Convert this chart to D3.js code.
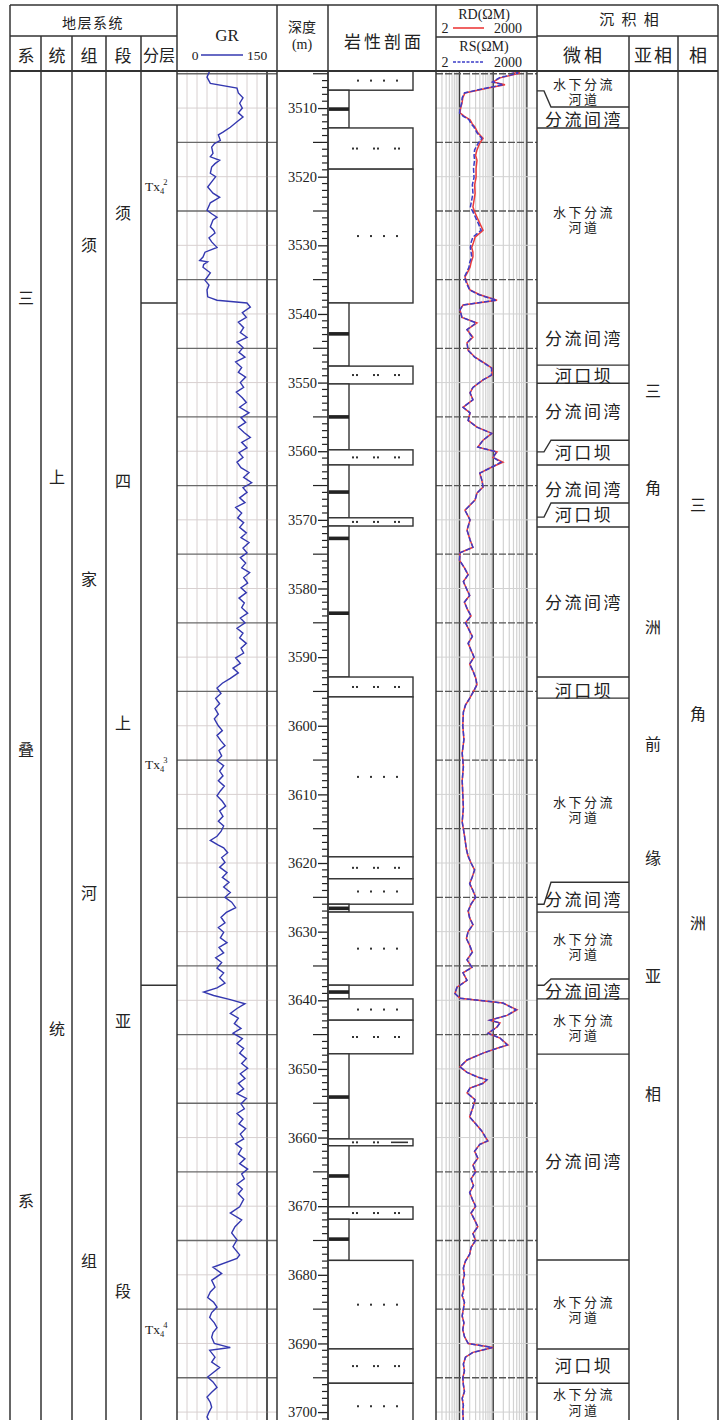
<!DOCTYPE html>
<html><head><meta charset="utf-8">
<script src="https://cdn.jsdelivr.net/npm/d3@7"></script>
<style>body{margin:0;background:#fff}svg{display:block}</style>
</head><body><svg id="c" width="725" height="1420"></svg>
<script>
// ---------------- DATA ----------------
const depthDomain = [3504.6, 3701.3];
const depthLabels = [3510,3520,3530,3540,3550,3560,3570,3580,3590,3600,3610,3620,3630,3640,3650,3660,3670,3680,3690,3700];
const grRange = [0, 150];
const resRange = [2, 2000];

// GR curve: [depth, API]
const grCurve = [
[3504.6,49],[3505.5,45],[3506.4,50],[3507.1,90],[3507.8,92],[3508.5,99],[3509.3,94],[3510.0,98],[3510.7,92],[3511.3,99],[3512.0,90],[3512.8,80],[3513.5,69],[3513.9,62],[3514.7,65],[3515.2,56],[3515.7,52],[3516.6,54],[3517.1,50],[3517.6,64],[3518.1,57],[3518.6,52],[3519.5,50],[3520.0,58],[3520.5,54],[3521.5,46],[3522.4,54],[3523.0,64],[3523.8,50],[3524.9,45],[3525.4,52],[3525.9,60],[3526.3,54],[3527.3,50],[3527.8,55],[3528.2,57],[3528.9,48],[3529.5,52],[3530.3,60],[3531.0,42],[3531.7,39],[3532.2,34],[3532.4,46],[3532.8,40],[3533.2,39],[3534.0,50],[3535.1,42],[3535.8,48],[3536.5,45],[3537.5,46],[3538.0,60],[3538.4,105],[3539.0,110],
[3539.8,98],[3540.5,104],[3541.2,92],[3542.0,100],[3542.7,95],[3543.4,105],[3544.1,90],[3544.9,99],[3545.6,93],[3546.3,102],[3547.0,88],[3547.8,97],[3548.5,92],[3549.2,103],[3550.0,95],[3550.7,100],[3551.4,89],[3552.2,98],[3552.9,104],[3553.6,94],[3554.4,108],[3555.1,96],[3555.8,103],[3556.5,92],[3557.3,101],[3558.0,110],[3558.7,97],[3559.5,105],[3560.2,93],[3560.9,99],[3561.6,90],[3562.4,96],[3563.1,108],[3563.8,100],[3564.6,112],[3565.3,99],[3566.0,105],[3566.8,94],[3567.5,102],[3568.2,88],[3569.0,97],[3569.7,91],[3570.4,100],[3571.1,94],[3571.9,104],[3572.6,96],[3573.3,108],[3574.1,99],[3574.8,105],[3575.5,95],[3576.3,103],[3577.0,97],[3577.7,109],[3578.4,100],[3579.2,106],[3579.9,96],[3580.6,104],[3581.4,93],[3582.1,101],[3582.8,97],[3583.6,106],[3584.3,95],[3585.0,102],[3585.8,90],[3586.5,99],[3587.2,94],[3588.0,104],[3588.7,96],[3589.4,100],[3590.1,88],[3590.9,95],[3591.6,84],[3592.3,92],[3593.1,80],[3593.8,68],[3594.5,60],[3595.3,66],[3596.0,58],[3596.8,64],[3597.5,57],[3598.3,62],[3599.0,56],
[3600.0,62],[3600.7,68],[3601.4,60],[3602.2,66],[3602.9,72],[3603.6,63],[3604.4,67],[3605.1,60],[3605.8,70],[3606.6,64],[3607.3,69],[3608.0,62],[3608.8,71],[3609.5,65],[3610.2,60],[3611.0,68],[3611.7,73],[3612.4,64],[3613.2,69],[3613.9,62],[3614.6,70],[3615.4,66],[3616.1,60],[3616.7,50],[3617.4,62],[3617.8,70],[3618.5,76],[3619.2,67],[3619.9,72],[3620.6,64],[3621.4,75],[3622.1,68],[3622.8,78],[3623.5,70],[3624.3,80],[3625.0,72],[3625.7,82],[3626.5,88],[3627.2,74],[3627.9,66],[3628.7,72],[3629.4,62],[3630.1,70],[3630.9,65],[3631.6,75],[3632.3,63],[3633.1,70],[3633.8,58],[3634.5,67],[3635.3,60],[3636.0,70],[3636.7,64],[3637.5,72],[3638.2,60],[3638.8,40],[3639.3,55],[3639.9,80],[3640.5,102],[3641.2,90],[3641.9,80],[3642.6,92],[3643.4,86],[3644.1,96],[3644.8,84],[3645.6,98],[3646.3,90],[3647.0,100],[3647.7,94],[3648.5,104],[3649.2,97],[3649.9,106],[3650.7,95],
[3651.4,102],[3652.1,92],[3652.9,100],[3653.6,90],[3654.3,104],[3655.1,96],[3655.8,101],[3656.5,90],[3657.3,99],[3658.0,93],[3658.7,103],[3659.5,95],[3660.2,100],[3660.9,88],[3661.6,97],[3662.4,92],[3663.1,102],[3663.8,94],[3664.6,106],[3665.3,97],[3666.0,101],[3666.8,90],[3667.5,98],[3668.2,92],[3669.0,100],[3670.1,94],[3671.0,80],[3672.0,97],[3673.0,87],[3673.9,82],[3674.9,90],[3675.9,84],[3677.1,94],[3677.6,90],[3678.9,54],[3679.8,67],[3680.8,52],[3681.8,57],[3682.5,50],[3683.3,46],[3684.0,55],[3684.7,60],[3685.5,52],[3686.2,49],[3687.0,56],[3687.7,60],[3688.4,54],[3689.1,52],[3690.0,56],[3690.6,80],[3691.0,49],[3692.0,57],[3692.7,52],[3693.5,64],[3694.2,55],[3694.9,46],[3695.6,54],[3696.4,60],[3697.1,52],[3697.8,45],[3698.6,50],[3699.3,52],[3700.0,48],[3700.7,45],[3701.3,48]
];

// Resistivity: [depth, RD, RS] (ohm.m)
const resCurve = [
[3504.6,316,300],[3504.9,626,560],[3505.6,159,150],[3506.2,99,95],[3506.6,224,200],[3507.1,65,60],[3507.8,14.5,14],[3508.5,12.5,12],[3509.3,11.8,11.5],[3510.0,10.8,10.5],[3510.7,10.3,10],[3511.2,14,13],[3511.7,20.5,19],[3512.3,24,22],[3512.8,28.8,27],[3513.6,35,33],[3514.4,50,46],[3515.1,40,36],[3516.1,33,28],[3516.9,30,27],[3517.6,33,28],[3518.8,31,26],[3520.1,31,27],[3521.2,28,24],[3522.4,29,25],[3523.4,27,23],[3524.4,25,21],[3525.3,29,26],[3526.8,40,36],[3527.8,50,44],[3528.8,29,25],[3529.6,26,22],[3530.3,23,21],[3531.0,25,22],[3531.7,25,23],[3532.5,22,20],[3533.2,20.5,19],[3534.0,17,16],[3534.6,14.5,14],[3535.5,16.7,16],[3536.5,20.5,20],[3537.2,40,38],[3538.0,130,125],[3538.7,12.7,12.5],[3539.4,10.3,10.3],[3540.5,11.8,11.8],[3541.3,33,31],[3542.3,16.7,16.7],[3543.4,25,24],[3544.2,16.7,16.7],[3545.3,18,18],[3546.3,29,28],[3547.2,57,55],[3547.9,92,90],[3548.9,92,88],[3549.6,50,50],[3550.7,25,25],[3551.5,20.5,20.5],[3552.5,25,25],[3553.6,12.7,12.7],[3554.4,20.5,20.5],[3555.5,18,18],[3556.5,33,33],[3557.4,92,90],[3558.4,50,50],[3559.4,35,35],[3560.1,130,125],[3560.9,99,99],[3561.6,195,170],[3562.3,92,92],[3563.2,40,40],[3564.2,46,46],[3565.2,50,50],[3566.1,33,33],[3567.1,29,29],[3568.6,14.5,14.5],[3570.0,20.5,20.5],[3571.5,16.7,16.7],[3572.9,20.5,20.5],[3574.0,25,25],[3574.8,10.3,10.3],[3575.9,10,10],
[3577,14,14],[3578,18,18],[3579,13,13],[3580,16,16],[3581,20,20],[3582,14,14],[3583,17,17],[3584,22,22],[3585,15,15],[3586,19,19],[3587,24,24],[3588,18,18],[3589,22,22],[3590,27,27],[3591,20,20],[3592,25,25],[3593,30,30],[3594,33,33],[3595,26,26],[3596,20,20],[3597,15,15],[3598,13,13],[3600,12.5,12.5],[3602,13.5,13.5],[3604,12,12],[3606,13,13],[3608,12,12],[3610,12.5,12.5],[3612,13,13],[3614,12,12],[3616,14,14],[3618,16,16],[3619,18,18],[3620,22,22],[3621,28,28],[3622,24,24],[3623,20,20],[3624,25,25],[3625,30,30],[3626,22,22],[3627,18,18],[3628,20,20],[3629,25,25],[3630,18,18],[3631,16,16],[3632,20,20],[3633,24,24],[3634.1,16.7,16.7],[3635.2,23.4,23.4],[3636.0,12.7,12.7],[3637.1,16.7,16.7],[3638.1,8.4,8.4],[3639.0,7.3,7.3],[3639.7,10.3,10.3],[3640.4,195,195],[3641.4,509,480],[3642.2,257,257],[3642.9,80,80],[3643.3,159,159],[3643.9,130,130],[3644.8,70,70],[3645.5,159,159],[3646.5,275,260],[3647.0,130,130],[3647.7,50,50],[3648.7,16.7,16.7],[3649.7,10.3,10.3],[3650.5,16.7,16.7],[3651.2,35,35],[3651.6,65,65],[3652.1,50,50],[3652.8,20.5,20.5],[3653.5,16.7,16.7],[3654.5,29,29],[3655.6,25,25],[3657,20,20],[3658,30,30],[3659,45,45],[3660,60,60],[3660.5,70,68],[3661,40,40],[3662,28,28],[3663,35,35],[3664,25,25],[3665,30,30],[3666,22,22],[3667,26,26],[3668,20,20],[3669,24,24],[3670,30,30],[3671,22,22],[3672,28,28],[3673,35,35],[3674,25,25],[3675,30,30],[3676,22,22],[3677,20,20],[3678,15,15],[3679,13,13],[3680,14,14],[3681,12.5,12.5],[3682,13.5,13.5],[3683,12,12],[3684,14,14],[3685,13,13],[3686,12,12],[3687,13.5,13.5],[3688,12.5,12.5],[3689,14,14],[3690,18,18],[3690.6,100,95],[3691.3,25,25],[3692,15,15],[3693,13,13],[3694,14,14],[3695,12.5,12.5],[3696,13,13],[3697,14,14],[3698,12,12],[3699,13,13],[3700,12.5,12.5],[3701.3,13,13]
];

// Lithology: S = sandstone, T = siltstone, M = mudstone
const lithTop    = [3504.6,3507.4,3512.9,3518.9,3538.4,3547.6,3550.2,3559.8,3562.0,3569.7,3570.9,3592.9,3595.8,3619.1,3622.3,3626.0,3627.15,3637.8,3639.8,3642.9,3647.8,3660.2,3661.2,3670.1,3671.9,3677.9,3690.8,3695.8];
const lithBottom = [3507.4,3512.9,3518.9,3538.4,3547.6,3550.2,3559.8,3562.0,3569.7,3570.9,3592.9,3595.8,3619.1,3622.3,3626.0,3627.15,3637.8,3639.8,3642.9,3647.8,3660.2,3661.2,3670.1,3671.9,3677.9,3690.8,3695.8,3702.5];
const lithType   = ["S","M","T","S","M","T","M","T","M","T","M","T","S","T","S","M","S","M","S","T","M","T","M","T","M","S","T","S"];
const mudBars = [3510.15,3542.9,3555.0,3565.95,3572.7,3583.6,3626.6,3638.8,3654.1,3665.6,3674.8];

// Micro-facies
const faciesName  = ["水下分流河道","分流间湾","水下分流河道","分流间湾","河口坝","分流间湾","河口坝","分流间湾","河口坝","分流间湾","河口坝","水下分流河道","分流间湾","水下分流河道","分流间湾","水下分流河道","分流间湾","水下分流河道","河口坝","水下分流河道"];
const faciesTop   = [3504.6,3509.85,3512.9,3538.4,3547.45,3550.1,3558.4,3562.0,3567.55,3571.05,3592.9,3595.97,3622.8,3627.15,3636.9,3639.8,3647.85,3677.85,3690.8,3695.8];
const faciesTopLeft = [null,3507.5,null,null,null,null,3560.1,null,3569.6,null,null,null,3626.0,null,3637.8,null,null,null,null,null];
const faciesLabelDepth = [3507.67,3511.46,3526.32,3543.37,3548.76,3554.0,3559.98,3565.37,3569.01,3581.84,3594.66,3612.29,3625.11,3632.25,3638.52,3644.05,3663.29,3685.14,3693.01,3698.6];

// Stratigraphy column labels [text, depth]
const sysLabels = [["三",3537.54],["叠",3603.25],["系",3669.11]];
const seriesLabels = [["上",3563.62],["统",3644.05]];
const formLabels = [["须",3529.82],["家",3578.48],["河",3624.23],["组",3677.86]];
const memberLabels = [["须",3525.15],["四",3564.2],["上",3599.47],["亚",3642.89],["段",3682.23]];
const layerLabels = [["2",3521.51],["3",3605.73],["4",3688.05]];
const layerBounds = [3538.4, 3637.8];
const subFaciesLabels = [["三",3551.09],["角",3565.22],["洲",3585.48],["前",3602.53],["缘",3619.14],["亚",3636.33],["相",3653.52]];
const faciesLabels = [["三",3567.70],["角",3598.15],["洲",3628.61]];

// ---------------- DRAW ----------------
const svg = d3.select("#c");
const TOP = 5, HMID = 36, HB = 71, BOT = 1420;
const XL = 10, XR = 718;
const colX = {sys:41, ser:72, form:106, mem:141, lay:177, gr:277, dep:328, lith:436, res:537, mf:629, sf:678};
const CJK = "'Noto Sans CJK SC','Noto Sans',sans-serif";
const CJK_TIGHT = "'Liberation Serif','Noto Sans CJK SC',sans-serif";
const SERIF = "'Liberation Serif','DejaVu Serif',serif";
const LINE = "#333";

const y = d3.scaleLinear().domain(depthDomain).range([HB, 1421]);
const xGR = d3.scaleLinear().domain(grRange).range([177, 277]);
const xRes = d3.scaleLog().domain(resRange).range([436, 537]);

svg.append("defs").append("clipPath").attr("id","body")
  .append("rect").attr("x",0).attr("y",HB).attr("width",725).attr("height",BOT-HB);
const body = svg.append("g").attr("clip-path","url(#body)");

// GR grid
const gGrid = body.append("g");
d3.range(15,150,15).forEach(v=>{
  gGrid.append("line").attr("x1",xGR(v)).attr("x2",xGR(v)).attr("y1",HB).attr("y2",BOT)
    .attr("stroke", v===135 ? "#444" : "#d8d0d0").attr("stroke-width", v===135 ? 1.4 : 1);
});
d3.range(3505, 3705, 5).forEach(d=>{
  const dark = d % 10 === 5;
  gGrid.append("line").attr("x1",177).attr("x2",277).attr("y1",y(d)).attr("y2",y(d))
    .attr("stroke", dark ? "#6a6a6a" : "#d8d0d0").attr("stroke-width", dark?1.3:1);
});
// Resistivity grid
[3,4,5,6,7,8,9,20,30,40,50,60,70,80,90,200,300,400,500,600,700,800,900].forEach(v=>{
  gGrid.append("line").attr("x1",xRes(v)).attr("x2",xRes(v)).attr("y1",HB).attr("y2",BOT)
    .attr("stroke","#d2d2d2").attr("stroke-width",1.2);
});
[10,100,1000].forEach(v=>{
  gGrid.append("line").attr("x1",xRes(v)).attr("x2",xRes(v)).attr("y1",HB).attr("y2",BOT)
    .attr("stroke","#3a3a3a").attr("stroke-width",1.4);
});
d3.range(3505, 3705, 5).forEach(d=>{
  const dark = d % 10 === 5;
  gGrid.append("line").attr("x1",436).attr("x2",537).attr("y1",y(d)).attr("y2",y(d))
    .attr("stroke", dark ? "#555" : "#d2d2d2").attr("stroke-width", dark?1.3:1)
    .attr("stroke-dasharray", dark ? "7,2" : null);
});

// Depth axis
const axis = d3.axisLeft(y).tickValues(depthLabels).tickSize(10).tickPadding(1).tickFormat(d3.format("d"));
const gAx = body.append("g").attr("transform","translate(328,0)").call(axis);
gAx.select(".domain").remove();
gAx.selectAll("line").attr("stroke","#222").attr("stroke-width",1.3);
gAx.selectAll("text").attr("font-family",SERIF).attr("font-size",14.5).attr("fill","#222");
d3.range(3505, 3702, 1).filter(d=>d%10!==0).forEach(d=>{
  const len = d%5===0 ? 15 : 6;
  body.append("line").attr("x1",328-len).attr("x2",328).attr("y1",y(d)).attr("y2",y(d))
    .attr("stroke","#222").attr("stroke-width",1.2);
});

// Lithology
const gL = body.append("g");
lithTop.forEach((t,i)=>{
  const b = lithBottom[i], tp = lithType[i];
  const x2 = tp==="M" ? 349 : 413;
  gL.append("rect").attr("x",328).attr("y",y(t)).attr("width",x2-328).attr("height",y(b)-y(t))
    .attr("fill","#fff").attr("stroke",LINE).attr("stroke-width",1.4);
  const cy = (y(t)+y(b))/2;
  if (tp==="S") {
    [358,371,384,397].forEach(cx=> gL.append("rect").attr("x",cx-1).attr("y",cy-1).attr("width",2).attr("height",2).attr("fill","#333"));
  } else if (tp==="T") {
    const thinDash = (b - t) < 1.2;
    [355,376,397].forEach((cx,k)=>{
      if (thinDash && k===2) {
        gL.append("line").attr("x1",391).attr("x2",408).attr("y1",cy).attr("y2",cy).attr("stroke","#333").attr("stroke-width",1.6);
      } else {
        gL.append("rect").attr("x",cx-3).attr("y",cy-1).attr("width",2).attr("height",2).attr("fill","#333");
        gL.append("rect").attr("x",cx+1).attr("y",cy-1).attr("width",2).attr("height",2).attr("fill","#333");
      }
    });
  }
});
mudBars.forEach(d=>{
  gL.append("rect").attr("x",329).attr("y",y(d)-1.8).attr("width",20).attr("height",3.6).attr("fill","#222");
});

// Curves
const grLine = d3.line().x(d=>xGR(d[1])).y(d=>y(d[0]));
body.append("path").datum(grCurve).attr("d",grLine).attr("fill","none").attr("stroke","#3438b0").attr("stroke-width",1.4);
const rdLine = d3.line().x(d=>xRes(d[1])).y(d=>y(d[0]));
const rsLine = d3.line().x(d=>xRes(d[2])).y(d=>y(d[0]));
body.append("path").datum(resCurve).attr("d",rdLine).attr("fill","none").attr("stroke","#ec3b3b").attr("stroke-width",1.5);
body.append("path").datum(resCurve).attr("d",rsLine).attr("fill","none").attr("stroke","#3b3cc8").attr("stroke-width",1.5).attr("stroke-dasharray","5,2");

// Facies boundaries and labels
const gF = body.append("g");
faciesTop.forEach((t,i)=>{
  if (i===0) return;
  const tl = faciesTopLeft[i];
  if (tl===null) {
    gF.append("line").attr("x1",537).attr("x2",629).attr("y1",y(t)).attr("y2",y(t)).attr("stroke",LINE).attr("stroke-width",1.4);
  } else {
    gF.append("polyline").attr("points",[[537,y(tl)],[544,y(tl)],[551,y(t)],[629,y(t)]].map(p=>p.join(",")).join(" "))
      .attr("fill","none").attr("stroke",LINE).attr("stroke-width",1.4);
  }
});
faciesName.forEach((n,i)=>{
  const cy = y(faciesLabelDepth[i]);
  if (n==="水下分流河道") {
    [["水下分流",-7.6],["河道",7.6]].forEach(([s,dy])=>{
      gF.append("text").attr("x",584).attr("y",cy+dy).attr("text-anchor","middle").attr("dominant-baseline","central")
        .attr("font-family",CJK_TIGHT).attr("font-size",13).attr("letter-spacing",2.5).attr("fill","#222").text(s);
    });
  } else {
    gF.append("text").attr("x",584).attr("y",cy).attr("text-anchor","middle").attr("dominant-baseline","central")
      .attr("font-family",CJK).attr("font-size",17).attr("letter-spacing",2.5).attr("fill","#222").text(n);
  }
});

// Layer boundaries
layerBounds.forEach(d=>{
  body.append("line").attr("x1",141).attr("x2",177).attr("y1",y(d)).attr("y2",y(d)).attr("stroke",LINE).attr("stroke-width",1.4);
});
layerLabels.forEach(([sup,d])=>{
  const t = body.append("text").attr("x",145).attr("y",y(d)+4).attr("font-family",SERIF).attr("font-size",13.5).attr("fill","#222");
  t.append("tspan").text("Tx");
  t.append("tspan").attr("font-size",8.5).attr("dy",3).text("4");
  t.append("tspan").attr("font-size",8.5).attr("dx",-1).attr("dy",-9).text(sup);
});

// Vertical labels
function vlabels(arr, cx, fs){
  arr.forEach(([c,d])=>{
    body.append("text").attr("x",cx).attr("y",y(d)).attr("text-anchor","middle").attr("dominant-baseline","central")
      .attr("font-family",CJK).attr("font-size",fs).attr("fill","#222").text(c);
  });
}
vlabels(sysLabels, 26, 16);
vlabels(seriesLabels, 57, 16);
vlabels(formLabels, 89, 16);
vlabels(memberLabels, 123, 16);
vlabels(subFaciesLabels, 653, 16);
vlabels(faciesLabels, 698, 16);

// Frame
const gFr = svg.append("g").attr("stroke",LINE).attr("stroke-width",1.5);
[XL, colX.lay, colX.gr, colX.dep, colX.lith, colX.res, XR].forEach(x=>{
  gFr.append("line").attr("x1",x).attr("x2",x).attr("y1",TOP).attr("y2",BOT);
});
[colX.sys, colX.ser, colX.form, colX.mem, colX.mf, colX.sf].forEach(x=>{
  gFr.append("line").attr("x1",x).attr("x2",x).attr("y1",HMID).attr("y2",BOT);
});
gFr.append("line").attr("x1",267).attr("x2",267).attr("y1",HB).attr("y2",BOT).attr("stroke","#444").attr("stroke-width",1.4);
gFr.append("line").attr("x1",XL).attr("x2",XR).attr("y1",TOP).attr("y2",TOP);
gFr.append("line").attr("x1",XL).attr("x2",XR).attr("y1",HB).attr("y2",HB).attr("stroke-width",2);
gFr.append("line").attr("x1",XL).attr("x2",colX.lay).attr("y1",HMID).attr("y2",HMID);
gFr.append("line").attr("x1",colX.lith).attr("x2",colX.res).attr("y1",37).attr("y2",37);
gFr.append("line").attr("x1",colX.res).attr("x2",XR).attr("y1",HMID).attr("y2",HMID);

// Header text
const gH = svg.append("g").attr("fill","#222");
function ht(x,yy,txt,fam,fs,ls){
  gH.append("text").attr("x",x).attr("y",yy).attr("text-anchor","middle").attr("dominant-baseline","central")
    .attr("font-family",fam).attr("font-size",fs).attr("letter-spacing",ls||0).text(txt);
}
ht(93,22,"地层系统",CJK,14,1.5);
ht(26,54,"系",CJK,17);
ht(57,54,"统",CJK,17);
ht(89,54,"组",CJK,17);
ht(123,54,"段",CJK,17);
ht(159,54,"分层",CJK,16,0);
ht(227,35,"GR",SERIF,17);
ht(195,55,"0",SERIF,13.5);
ht(257,55,"150",SERIF,13.5);
gH.append("line").attr("x1",201).attr("x2",243).attr("y1",55).attr("y2",55).attr("stroke","#3438b0").attr("stroke-width",1.6);
ht(302,26,"深度",CJK,14);
ht(302,44,"(m)",SERIF,14);
ht(384,40,"岩性剖面",CJK,17,3);
ht(484,14,"RD(ΩM)",SERIF,14);
ht(445,28,"2",SERIF,14);
ht(508,28,"2000",SERIF,14);
gH.append("line").attr("x1",453).attr("x2",484).attr("y1",28).attr("y2",28).attr("stroke","#ec3b3b").attr("stroke-width",1.6);
ht(484,46,"RS(ΩM)",SERIF,14);
ht(445,62,"2",SERIF,14);
ht(508,62,"2000",SERIF,14);
gH.append("line").attr("x1",453).attr("x2",484).attr("y1",62).attr("y2",62).attr("stroke","#3b3cc8").attr("stroke-width",1.6).attr("stroke-dasharray","3,1.5");
ht(630,18,"沉 积 相",CJK,15,2);
ht(584,54,"微相",CJK,18,3);
ht(654,54,"亚相",CJK,18,2);
ht(698,54,"相",CJK,18);
</script>
</body></html>
